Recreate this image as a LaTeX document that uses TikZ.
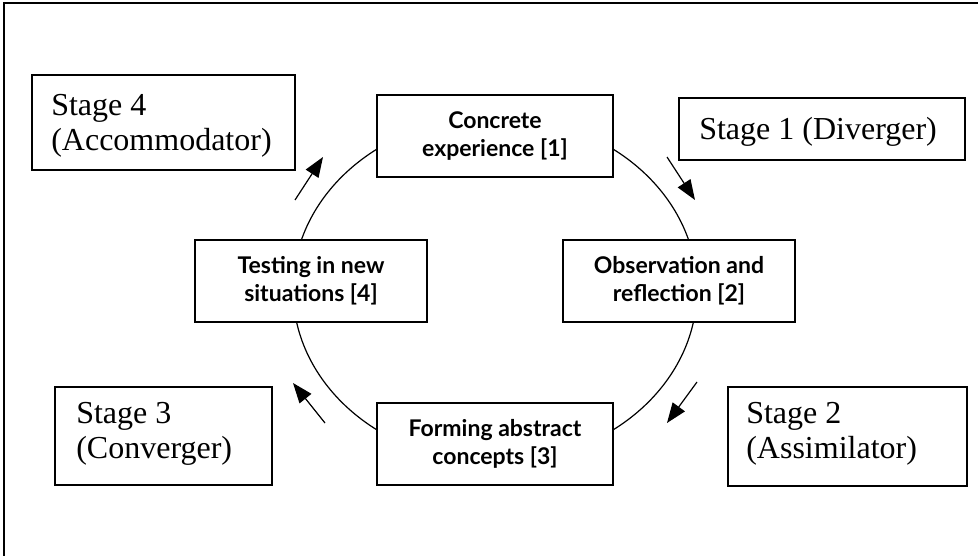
\documentclass[tikz,border=0pt]{standalone}
\usepackage{fontspec}
\setmainfont{Liberation Serif}
\newfontfamily\boxfont{Lato}
\usetikzlibrary{arrows.meta}
\begin{document}
\begin{tikzpicture}[x=1pt,y=-1pt,
  stagebox/.style={draw,line width=1.8pt,fill=white,inner sep=0pt},
  stagetext/.style={inner sep=0pt,anchor=north west,align=left,
    font=\fontsize{32}{35}\selectfont},
  cyclebox/.style={draw,line width=1.2pt,fill=white,inner sep=0pt,
    align=center,font=\boxfont\bfseries\fontsize{23}{28}\selectfont},
  flow/.style={line width=1.2pt,-{Triangle[length=20pt,width=15pt]}}]
\useasboundingbox (0,0) rectangle (978,556);
\draw[line width=2.6pt] (4,556) -- (4,3) -- (978,3);
% cycle
\draw[line width=1.2pt] (495,289.5) ellipse [x radius=202, y radius=173];
% inner boxes
\node[cyclebox,minimum width=236pt,minimum height=82pt] (ce) at (495,136) {Concrete\\experience [1]};
\node[cyclebox,minimum width=232pt,minimum height=82pt] (or) at (679,281) {Observation and\\reflection [2]};
\node[cyclebox,minimum width=236pt,minimum height=82pt] (fa) at (495,444) {Forming abstract\\concepts [3]};
\node[cyclebox,minimum width=232pt,minimum height=82pt] (tn) at (311,281) {Testing in new\\situations [4]};
% stage boxes
\node[stagebox,minimum width=263pt,minimum height=95pt] (s4) at (163.5,122.5) {};
\node[stagebox,minimum width=286pt,minimum height=62pt] (s1) at (822,129) {};
\node[stagebox,minimum width=217pt,minimum height=98pt] (s3) at (163.5,436) {};
\node[stagebox,minimum width=239pt,minimum height=99pt] (s2) at (847.5,436.5) {};
\node[stagetext] (s4t) at ([shift={(20,20)}]s4.north west) {Stage 4\\(Accommodator)};
\node[stagetext] (s1t) at ([shift={(21,20)}]s1.north west) {Stage 1 (Diverger)};
\node[stagetext] (s3t) at ([shift={(22,16)}]s3.north west) {Stage 3\\(Converger)};
\node[stagetext] (s2t) at ([shift={(19,16)}]s2.north west) {Stage 2\\(Assimilator)};
% arrows
\coordinate (a4s) at (295,200); \coordinate (a4e) at (323,157);
\coordinate (a1s) at (667,157); \coordinate (a1e) at (695,200);
\coordinate (a2s) at (697,382); \coordinate (a2e) at (667,423);
\coordinate (a3s) at (325,423); \coordinate (a3e) at (293,383);
\draw[flow] (a4s) -- (a4e);
\draw[flow] (a1s) -- (a1e);
\draw[flow] (a2s) -- (a2e);
\draw[flow] (a3s) -- (a3e);
\end{tikzpicture}
\end{document}
